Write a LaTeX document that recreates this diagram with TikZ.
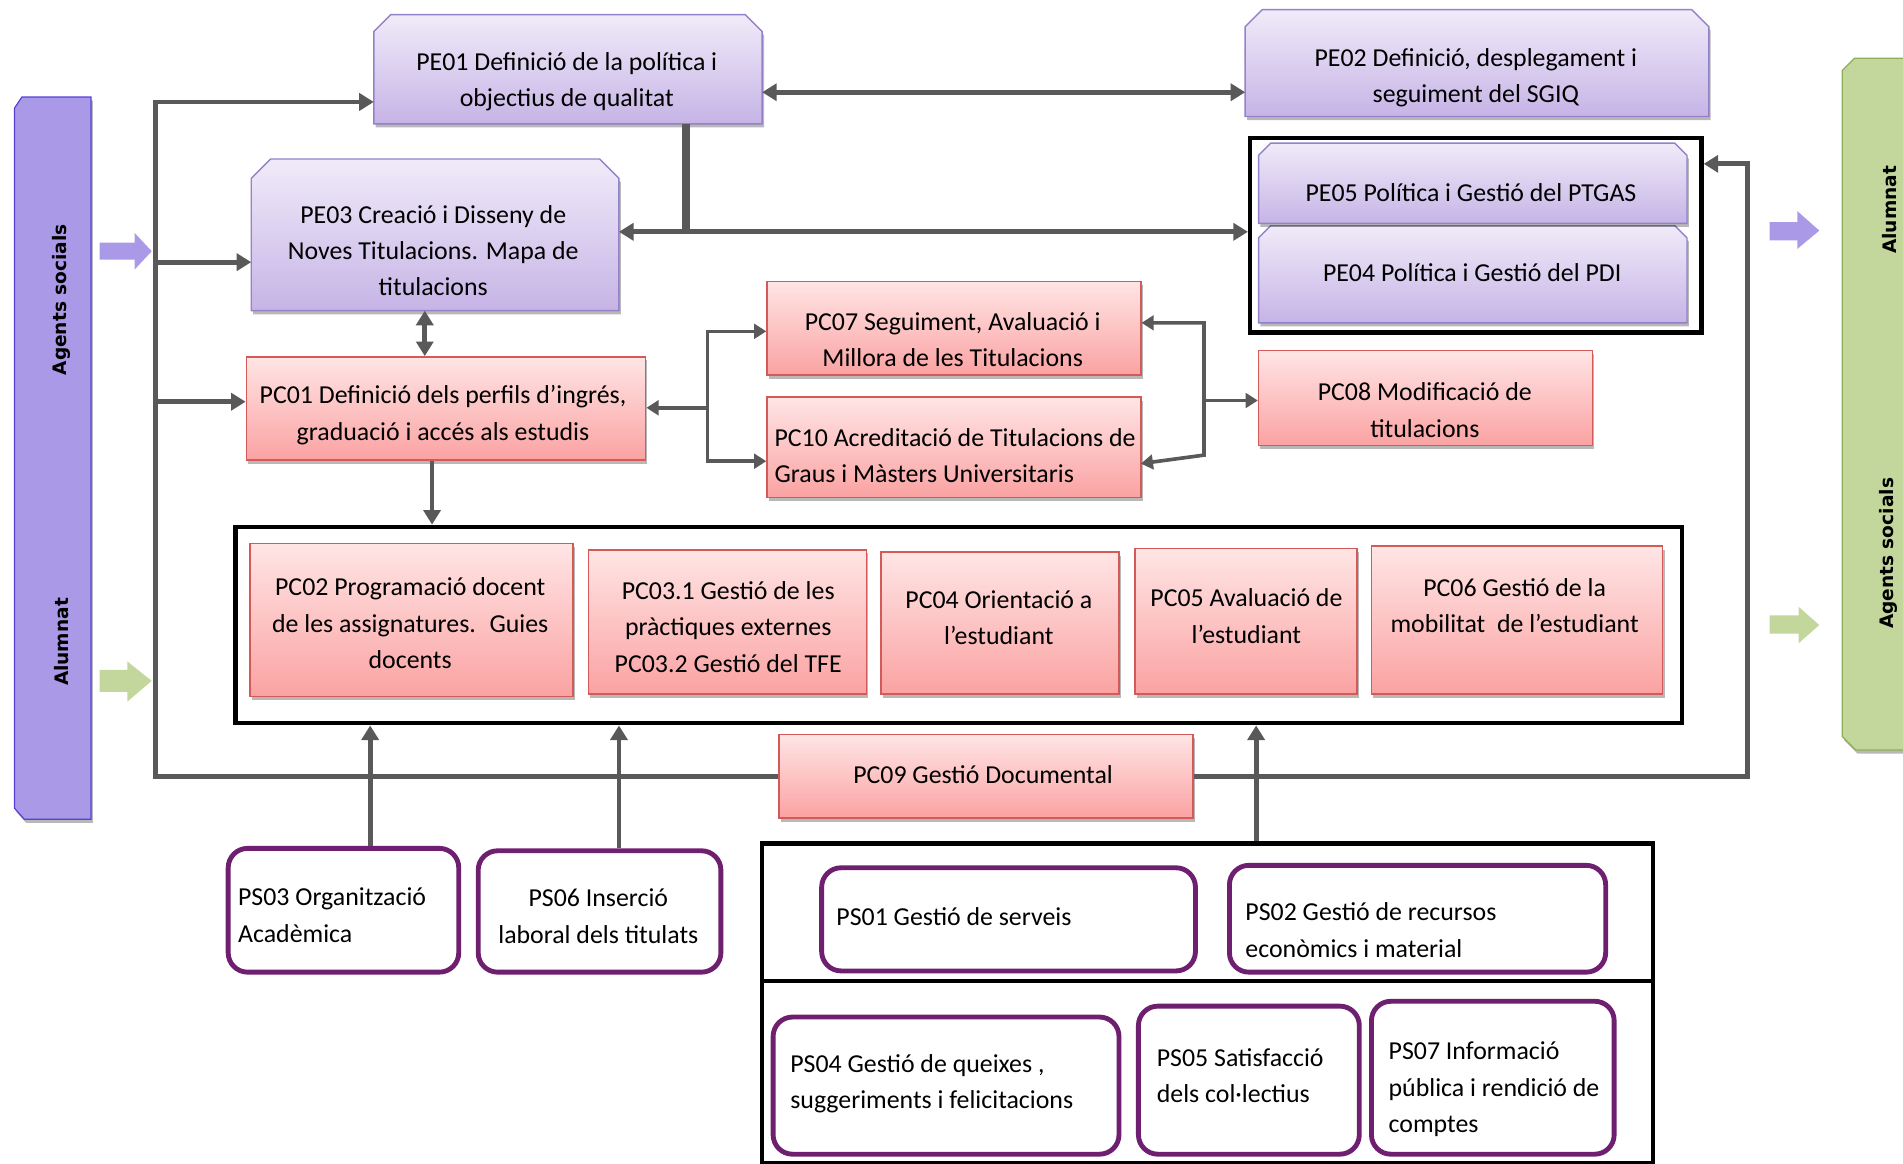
\documentclass[tikz,border=0pt]{standalone}
\usepackage{fontspec}
\setmainfont{Carlito}
\newfontfamily\barfont{DejaVu Sans}
\usetikzlibrary{arrows.meta,shadows,fit}
\definecolor{peTop}{HTML}{F0EBF9}
\definecolor{peBot}{HTML}{C6B4E6}
\definecolor{peLine}{HTML}{9482C8}
\definecolor{pcTop}{HTML}{FFE5E5}
\definecolor{pcBot}{HTML}{FBA2A2}
\definecolor{pcLine}{HTML}{D45A5A}
\definecolor{psLine}{HTML}{6E1F70}
\definecolor{connC}{HTML}{595959}
\definecolor{barL}{HTML}{A999E7}
\definecolor{barLline}{HTML}{5641D6}
\definecolor{barR}{HTML}{C3D69B}
\definecolor{barRline}{HTML}{8FAE58}
\newcommand\chamfpath[2]{(#1.south west) -- ([yshift=-#2]#1.north west) -- ([xshift=#2]#1.north west) -- ([xshift=-#2]#1.north east) -- ([yshift=-#2]#1.north east) -- (#1.south east) -- cycle}
\tikzset{
  frame/.style={inner sep=0pt, outer sep=0pt},
  shad/.style={drop shadow={shadow xshift=1.5pt, shadow yshift=-3pt, opacity=0.28, fill=black}},
  peshape/.style={draw=peLine, line width=1.2pt, top color=peTop, bottom color=peBot, shad},
  pcn/.style={draw=pcLine, line width=1.2pt, top color=pcTop, bottom color=pcBot, inner sep=0pt, shad},
  psn/.style={draw=psLine, line width=4pt, rounded corners=16pt, fill=white, inner sep=0pt},
  blk/.style={draw=black, line width=3.5pt, inner sep=0pt},
  tx/.style={font=\fontsize{21.3}{30}\selectfont, align=center, inner sep=0pt, yshift=-2.5pt},
  txl/.style={font=\fontsize{21.3}{30}\selectfont, align=left, anchor=west, inner sep=0pt, yshift=-2.5pt},
  bartx/.style={font=\barfont\bfseries\fontsize{15.3}{18}\selectfont, rotate=90, inner sep=0pt},
  conn/.style={draw=connC, line width=4pt},
  connthin/.style={draw=connC, line width=3pt},
  connthick/.style={draw=connC, line width=6.5pt},
  ar/.style={-{Triangle[length=12pt,width=14pt]}},
  arr/.style={{Triangle[length=12pt,width=14pt]}-{Triangle[length=12pt,width=14pt]}},
  sar/.style={-{Triangle[length=10pt,width=12pt]}},
  sarr/.style={{Triangle[length=10pt,width=12pt]}-{Triangle[length=10pt,width=12pt]}},
}
\begin{document}
\begin{tikzpicture}[x=1pt,y=-1pt]
\useasboundingbox (0,0) rectangle (1568,959);

% side bars
\path[draw=barLline, line width=1pt, fill=barL, shad] (12,89) -- (18,80) -- (75,80) -- (75,675) -- (20,675) -- (12,666) -- cycle;
\path[draw=barRline, line width=1pt, fill=barR, shad] (1518,58) -- (1528,48) -- (1590,48) -- (1590,618) -- (1529,618) -- (1518,607) -- cycle;
\node[bartx] (lag) at (51,247) {Agents socials};
\node[bartx] (lal) at (51,529) {Alumnat};
\node[bartx] (ral) at (1557,173) {Alumnat};
\node[bartx] (rag) at (1556,456) {Agents socials};

% block arrows
\fill[barL] (82,200) -- (111,200) -- (111,192) -- (125,207) -- (111,222) -- (111,214) -- (82,214) -- cycle;
\fill[barR] (82,552) -- (105,552) -- (105,545) -- (125,561) -- (105,578) -- (105,570) -- (82,570) -- cycle;
\fill[barL] (1458,183) -- (1481,183) -- (1481,174) -- (1499,190) -- (1481,205) -- (1481,198) -- (1458,198) -- cycle;
\fill[barR] (1458,507) -- (1482,507) -- (1482,500) -- (1499,515) -- (1482,530) -- (1482,522) -- (1458,522) -- cycle;

% strategic processes
\node[frame, fit={(308,12)(628,102)}] (pe01) {};
\path[peshape] \chamfpath{pe01}{14pt};
\node[tx] (pe01t) at (467,65) {PE01 Definició de la política i\\objectius de qualitat};

\node[frame, fit={(1026,8)(1408,96)}] (pe02) {};
\path[peshape] \chamfpath{pe02}{14pt};
\node[tx] (pe02t) at (1216,61.5) {PE02 Definició, desplegament i\\seguiment del SGIQ};

\node[frame, fit={(207,131)(510,256)}] (pe03) {};
\path[peshape] \chamfpath{pe03}{16pt};
\node[tx] (pe03t) at (357,204) {PE03 Creació i Disseny de\\Noves Titulacions. Mapa de\\titulacions};

\node[blk, fit={(1030,114)(1402,274)}] (tbox) {};
\node[frame, fit={(1037,186)(1390,266)}] (pe04) {};
\path[peshape] \chamfpath{pe04}{10pt};
\node[tx] (pe04t) at (1213,222) {PE04 Política i Gestió del PDI};
\node[frame, fit={(1037,118)(1390,184)}] (pe05) {};
\path[peshape] \chamfpath{pe05}{10pt};
\node[tx] (pe05t) at (1212,156) {PE05 Política i Gestió del PTGAS};

% key processes
\node[pcn, fit={(203,294)(532,379)}] (pc01) {};
\node[tx] (pc01t) at (365,339.5) {PC01 Definició dels perfils d’ingrés,\\graduació i accés als estudis};
\node[pcn, fit={(632,232)(940,309)}] (pc07) {};
\node[tx] (pc07t) at (785,277.5) {PC07 Seguiment, Avaluació i\\Millora de les Titulacions};
\node[pcn, fit={(632,327)(940,410)}] (pc10) {};
\node[txl] (pc10t) at (638,373) {PC10 Acreditació de Titulacions de\\Graus i Màsters Universitaris};
\node[pcn, fit={(1037,289)(1312,367)}] (pc08) {};
\node[tx] (pc08t) at (1174,335.5) {PC08 Modificació de\\titulacions};

\node[blk, fit={(194,434)(1386,596)}] (pcbox) {};
\node[pcn, fit={(206,448)(472,574)}] (pc02) {};
\node[tx] (pc02t) at (338,511) {PC02 Programació docent\\de les assignatures.~ Guies\\docents};
\node[pcn, fit={(485,453)(714,572)}] (pc03) {};
\node[tx] (pc03t) at (600,514) {PC03.1 Gestió de les\\pràctiques externes\\PC03.2 Gestió del TFE};
\node[pcn, fit={(726,455)(922,572)}] (pc04) {};
\node[tx] (pc04t) at (823,506.5) {PC04 Orientació a\\l’estudiant};
\node[pcn, fit={(935,452)(1118,572)}] (pc05) {};
\node[tx] (pc05t) at (1027,505) {PC05 Avaluació de\\l’estudiant};
\node[pcn, fit={(1130,450)(1370,572)}] (pc06) {};
\node[tx] (pc06t) at (1248,496.5) {PC06 Gestió de la\\mobilitat~ de l’estudiant};

\node[pcn, fit={(642,605)(983,674)}] (pc09) {};
\node[tx] (pc09t) at (810,636) {PC09 Gestió Documental};

% support processes
\node[psn, fit={(188,699)(378,801)}] (ps03) {};
\node[txl] (ps03t) at (196,751.5) {PS03 Organització\\Acadèmica};
\node[psn, fit={(394,701)(594,801)}] (ps06) {};
\node[tx] (ps06t) at (493,752.5) {PS06 Inserció\\laboral dels titulats};

\node[blk, fit={(628,695)(1362,958)}] (psbox) {};
\coordinate (dv1) at (628,808);
\coordinate (dv2) at (1362,808);
\draw[line width=3.5pt] (dv1) -- (dv2);
\node[psn, fit={(677,715)(985,800)}] (ps01) {};
\node[txl] (ps01t) at (689,753) {PS01 Gestió de serveis};
\node[psn, fit={(1013,713)(1323,801)}] (ps02) {};
\node[txl] (ps02t) at (1026,764) {PS02 Gestió de recursos\\econòmics i material};
\node[psn, fit={(637,838)(922,951)}] (ps04) {};
\node[txl] (ps04t) at (651,890.5) {PS04 Gestió de queixes ,\\suggeriments i felicitacions};
\node[psn, fit={(938,829)(1120,951)}] (ps05) {};
\node[txl] (ps05t) at (953,884) {PS05 Satisfacció\\dels col·lectius};
\node[psn, fit={(1130,825)(1330,951)}] (ps07) {};
\node[txl] (ps07t) at (1144,895) {PS07 Informació\\pública i rendició de\\comptes};

% connectors
\coordinate (lt) at (128,84);
\coordinate (l3) at (128,216);
\coordinate (l1) at (128,331);
\draw[conn, ar] (pc09.west) -| (lt) -- (pe01.west |- lt);
\draw[conn, ar] (l3) -- (pe03.west |- l3);
\draw[conn, ar] (l1) -- (pc01.west |- l1);

\coordinate (rt) at (1440,135);
\draw[conn, ar] (pc09.east) -| (rt) -- (tbox.east |- rt);

\coordinate (a76) at (628,76);
\draw[conn, arr] (pe01.east |- a76) -- (pe02.west |- a76);

\coordinate (j) at (565,191);
\draw[connthick] (pe01.south -| j) -- (j);
\draw[conn, arr] (pe03.east |- j) -- (tbox.west |- j);

\coordinate (k) at (350,0);
\draw[conn, arr] (pe03.south -| k) -- (pc01.north -| k);

\coordinate (b1) at (583,273);
\coordinate (b2) at (583,380);
\coordinate (b0) at (583,336);
\draw[connthin, sarr] (pc07.west |- b1) -- (b1) -- (b2) -- (pc10.west |- b2);
\draw[connthin, sar] (b0) -- (pc01.east |- b0);

\coordinate (c1) at (992,266);
\coordinate (c2) at (992,375);
\coordinate (c0) at (992,330);
\coordinate (c3) at (940,382);
\draw[connthin, sarr] (pc07.east |- c1) -- (c1) -- (c2) -- (c3);
\draw[connthin, sar] (c0) -- (pc08.west |- c0);

\coordinate (d) at (356,0);
\draw[conn, ar] (pc01.south -| d) -- (pcbox.north -| d);
\coordinate (e1) at (305,0);
\coordinate (e2) at (510,0);
\coordinate (e3) at (1035,0);
\draw[conn, ar] (ps03.north -| e1) -- (pcbox.south -| e1);
\draw[conn, ar] (ps06.north -| e2) -- (pcbox.south -| e2);
\draw[conn, ar] (psbox.north -| e3) -- (pcbox.south -| e3);
\end{tikzpicture}
\end{document}
